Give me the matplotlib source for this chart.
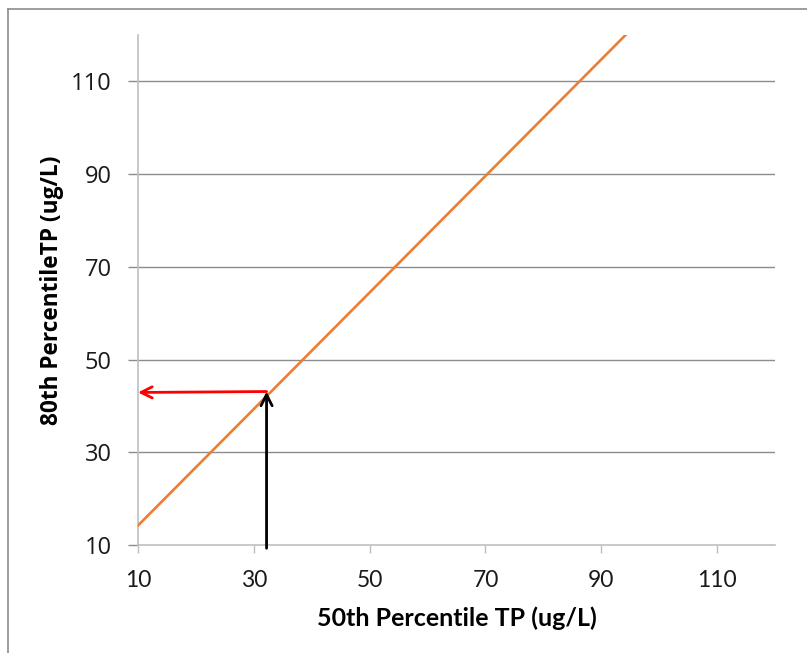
"""80th vs 50th percentile TP relationship, with a read-off example (arrows)."""

import matplotlib
matplotlib.use("Agg")
import matplotlib.pyplot as plt
from matplotlib.lines import Line2D

# regression line
line_x = [10, 94.2]
line_y = [14.2, 120]

# worked example: 50th percentile ~32 -> 80th percentile ~43
example_x = 32.2
example_y = 43.1
arrow_start_y = 9.3

x_ticks = [10, 30, 50, 70, 90, 110]
y_ticks = [10, 30, 50, 70, 90, 110]

W, H = 807, 653
fig = plt.figure(figsize=(W / 100, H / 100), dpi=100)
ax = fig.add_axes([138 / W, (H - 545) / H, (775 - 138) / W, (545 - 35) / H])

ax.set_xlim(10, 120)
ax.set_ylim(10, 120)
ax.set_xticks(x_ticks)
ax.set_yticks(y_ticks)

# gridlines at the y ticks only
for yv in y_ticks[1:]:
    ax.axhline(yv, color="#8c8c8c", linewidth=1.0, zorder=1)

ax.plot(line_x, line_y, color="#ed7d31", linewidth=1.9, zorder=3)

ax.annotate("", xy=(example_x, example_y), xytext=(example_x, arrow_start_y),
            arrowprops=dict(arrowstyle="->,head_length=0.8,head_width=0.4",
                            color="black", lw=2.0, shrinkA=0, shrinkB=0),
            annotation_clip=False, zorder=4)
ax.annotate("", xy=(10.0, example_y - 0.2), xytext=(example_x, example_y),
            arrowprops=dict(arrowstyle="->,head_length=0.8,head_width=0.4",
                            color="#ff0000", lw=2.0, shrinkA=0, shrinkB=0),
            annotation_clip=False, zorder=4)

for side in ("top", "right"):
    ax.spines[side].set_visible(False)
for side in ("left", "bottom"):
    ax.spines[side].set_color("#bfbfbf")
    ax.spines[side].set_linewidth(1.2)

ax.tick_params(axis="y", direction="out", length=7, width=1, color="#8c8c8c", pad=12)
ax.tick_params(axis="x", direction="out", length=6, width=1, color="#bfbfbf", pad=12)
for lab in ax.get_yticklabels():
    lab.set_fontfamily("Open Sans")
    lab.set_fontsize(17)
    lab.set_color("#1a1a1a")
for lab in ax.get_xticklabels():
    lab.set_fontfamily("Lato")
    lab.set_fontsize(16.5)
    lab.set_color("#1a1a1a")

ax.set_xlabel("50th Percentile TP (ug/L)", fontfamily="Lato", fontweight="bold",
              fontsize=18, labelpad=11)
ax.set_ylabel("80th PercentileTP (ug/L)", fontfamily="Open Sans", fontweight="bold",
              fontsize=16.3, labelpad=5)

# frame around the chart area (top and left edges visible)
fig.add_artist(Line2D([8 / W, 8 / W], [0, 1 - 9 / H], color="#8c8c8c", linewidth=1.2))
fig.add_artist(Line2D([8 / W, 1], [1 - 9 / H, 1 - 9 / H], color="#8c8c8c", linewidth=1.2))

fig.savefig("out.png", dpi=100)
